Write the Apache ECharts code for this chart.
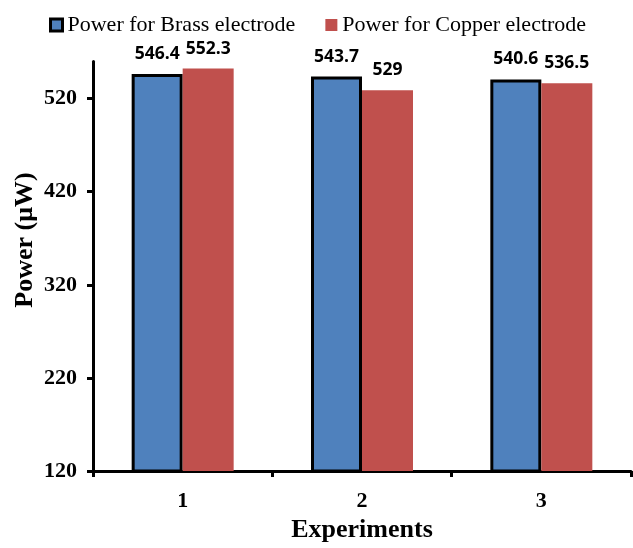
<!DOCTYPE html>
<html>
<head>
<meta charset="utf-8">
<script src="https://cdn.jsdelivr.net/npm/echarts@6/dist/echarts.min.js"></script>
<style>html,body{margin:0;padding:0;background:#fff}#c{width:633px;height:548px}</style>
</head>
<body>
<div id="c"></div>
<script>
var categories = ['1', '2', '3'];
var brass = [546.4, 543.7, 540.6];
var copper = [552.3, 529, 536.5];
var yTicks = [120, 220, 320, 420, 520];
var seriesNames = ['Power for Brass electrode', 'Power for Copper electrode'];
var yTitle = 'Power (μW)';
var xTitle = 'Experiments';

var chart = echarts.init(document.getElementById('c'), null, {renderer: 'canvas'});
var serif = '"Liberation Serif", "Times New Roman", serif';
var lbl = {
  show: true, position: 'top', distance: 11, color: '#000',
  fontFamily: '"Open Sans", sans-serif', fontWeight: 'bold', fontSize: 17.5
};
chart.setOption({
  animation: false,
  backgroundColor: '#fff',
  legend: {
    top: 9, left: 44, itemWidth: 12, itemHeight: 12, itemGap: 30,
    textStyle: {fontFamily: serif, fontSize: 22, color: '#000'},
    data: [
      {name: seriesNames[0], icon: 'rect', itemStyle: {borderColor: '#000', borderWidth: 3}},
      {name: seriesNames[1], icon: 'rect'}
    ]
  },
  graphic: [{
    type: 'text', x: 25, y: 240, rotation: Math.PI / 2,
    style: {
      text: yTitle, align: 'center', verticalAlign: 'middle',
      fontFamily: serif, fontWeight: 'bold', fontSize: 26, fill: '#000'
    }
  }],
  grid: {left: 93, right: 2, top: 61.4, bottom: 73, containLabel: false},
  xAxis: {
    type: 'category', data: categories,
    name: xTitle, nameLocation: 'middle', nameGap: 46,
    nameTextStyle: {fontFamily: serif, fontWeight: 'bold', fontSize: 26, color: '#000'},
    axisLine: {lineStyle: {color: '#000', width: 3}},
    axisTick: {show: true, length: 6, lineStyle: {color: '#000', width: 3}},
    axisLabel: {fontFamily: serif, fontWeight: 'bold', fontSize: 22, color: '#000', margin: 19}
  },
  yAxis: {
    type: 'value', min: 120, max: 560, interval: 100,
    axisLine: {show: true, lineStyle: {color: '#000', width: 3}},
    axisTick: {show: true, length: 6, customValues: yTicks, lineStyle: {color: '#000', width: 3}},
    axisLabel: {fontFamily: serif, fontWeight: 'bold', fontSize: 22, color: '#000', margin: 16, customValues: yTicks},
    splitLine: {show: false}
  },
  series: [
    {
      name: seriesNames[0], type: 'bar', data: brass, barWidth: 51, barGap: '0%',
      itemStyle: {color: '#4F81BD', borderColor: '#000', borderWidth: 3},
      label: lbl
    },
    {
      name: seriesNames[1], type: 'bar', data: copper, barWidth: 51,
      itemStyle: {color: '#C0504D'},
      label: lbl
    }
  ]
});
</script>
</body>
</html>
